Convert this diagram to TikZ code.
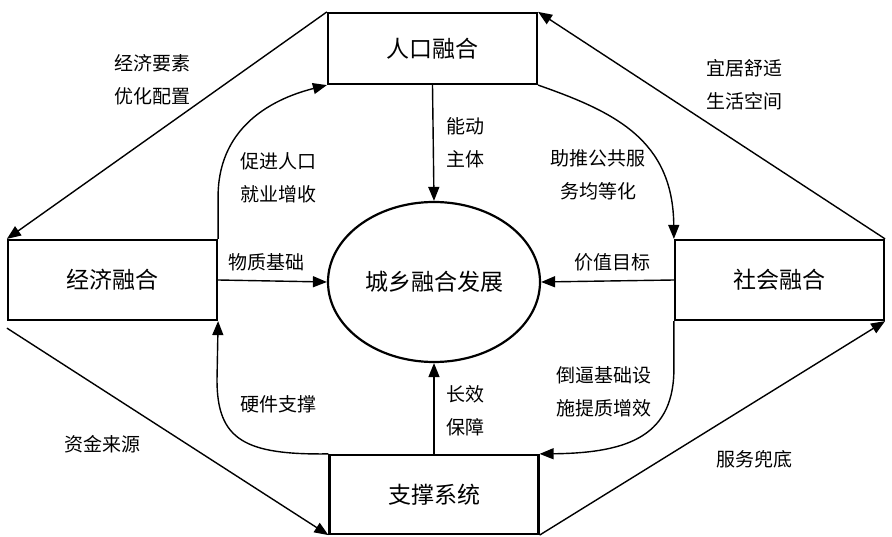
\documentclass[tikz,border=0pt]{standalone}
\usepackage{fontspec}
\newfontfamily\cjk{Noto Sans CJK SC}
\usetikzlibrary{arrows.meta,positioning,shapes.geometric,calc}
\tikzset{
    frame style/.style={draw,line width=2.2pt,minimum width=209pt,font=\cjk\fontsize{23}{23}\selectfont},
    core style/.style={ellipse,draw,line width=2.2pt,minimum width=212pt,minimum height=160pt,font=\cjk\fontsize{23}{23}\selectfont},
    arr/.style={-{Triangle[length=14pt,width=11pt]},line width=1.4pt},
    note/.style={font=\cjk\fontsize{19}{33}\selectfont,align=center,inner sep=0pt},
}

\begin{document}
\begin{tikzpicture}[x=1pt,y=-1pt]
        \useasboundingbox (0,0) rectangle (892,537);

        \node[frame style,minimum height=71pt] (pop) at (432.5,48.5) {人口融合};
        \node[frame style,minimum height=80pt] (econ) at (112.5,280) {经济融合};
        \node[frame style,minimum height=80pt] (soc) at (779.5,280) {社会融合};
        \node[frame style,minimum height=79pt] (sup) at (434,494.5) {支撑系统};
        \node[core style] (core) at (434,282) {城乡融合发展};

        \draw[arr] (pop.south) -- (core.north);
        \draw[arr] (sup.north) -- (core.south);
        \draw[arr] (econ.east) -- (core.west);
        \draw[arr] (soc.west) -- (core.east);

        \draw[arr] (econ.north east) -- ++(0,-40)
        .. controls (217,130) and (268,100) .. (pop.south west);
        \draw[arr] (pop.south east) .. controls (615,112) and (673,140) .. (soc.north west);
        \draw[arr] (soc.south west) -- ++(0,45)
        .. controls (675,435) and (630,453) .. (sup.north east);
        \draw[arr] (sup.north west) .. controls (245,455) and (217,440) .. (217,380)
        -- (econ.south east);

        \draw[arr] (pop.north west) -- (econ.north west);
        \draw[arr] (soc.north east) -- (pop.north east);
        \draw[arr] ($(econ.south west)+(0,7)$) -- (sup.south west);
        \draw[arr] (sup.south east) -- (soc.south east);

        \node[note] (l-factor) at (152,80) {经济要素\\优化配置};
        \node[note] (l-job) at (278,178) {促进人口\\就业增收};
        \node[note] (l-agent) at (465,143) {能动\\主体};
        \node[note] (l-public) at (598,175) {助推公共服\\务均等化};
        \node[note] (l-live) at (744,85) {宜居舒适\\生活空间};
        \node[note] (l-basis) at (266,262) {物质基础};
        \node[note] (l-value) at (612,262) {价值目标};
        \node[note] (l-hard) at (278,404) {硬件支撑};
        \node[note] (l-fund) at (102,444) {资金来源};
        \node[note] (l-long) at (465,411) {长效\\保障};
        \node[note] (l-infra) at (604,392) {倒逼基础设\\施提质增效};
        \node[note] (l-floor) at (754,459) {服务兜底};
    \end{tikzpicture}
\end{document}
